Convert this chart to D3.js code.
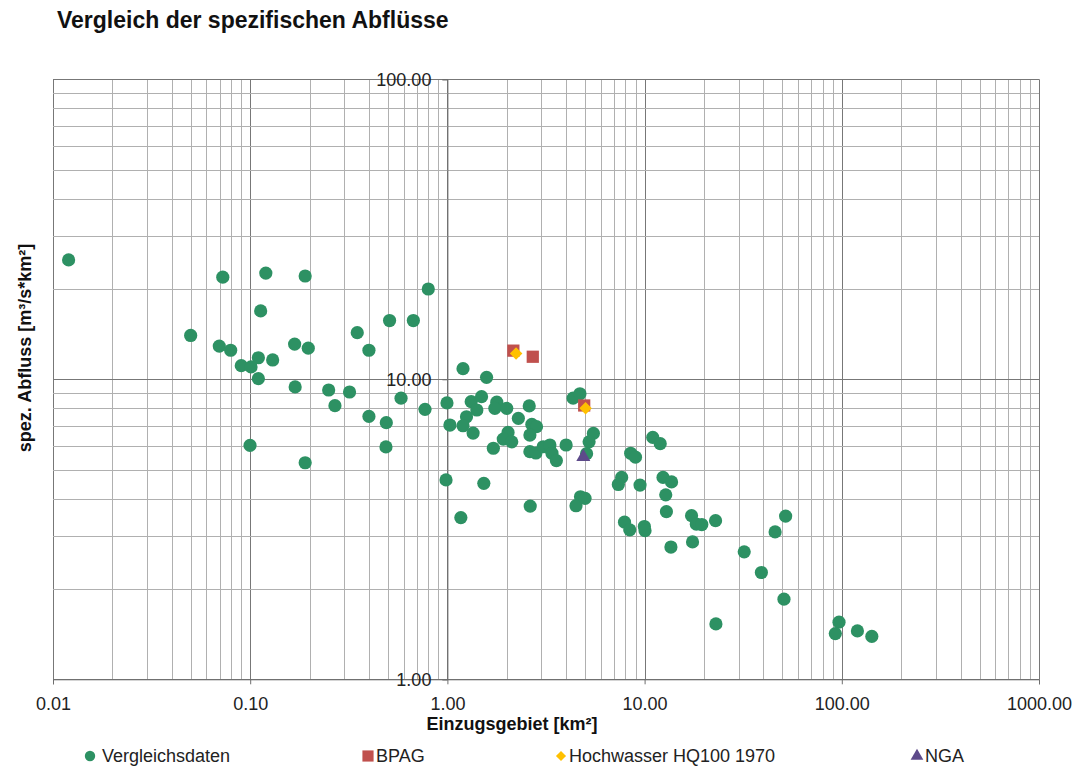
<!DOCTYPE html>
<html>
<head>
<meta charset="utf-8">
<script src="https://cdn.jsdelivr.net/npm/d3@7"></script>
<style>
  body { margin: 0; background: #ffffff; }
  svg { font-family: "Liberation Sans", Arial, sans-serif; }
</style>
</head>
<body>
<svg></svg>
<script>
// Vergleichsdaten: Einzugsgebiet [km²] und spez. Abfluss [m³/s*km²]
const vergleichFlaeche = [
  0.012, 0.0726, 0.120, 0.190, 0.800, 0.113, 0.509, 0.672, 0.0499, 0.349,
  0.0697, 0.0796, 0.168, 0.197, 0.400, 0.110, 0.130, 0.0901, 0.101, 0.110,
  0.169, 0.250, 0.319, 0.269, 0.582, 0.770, 0.400, 0.490, 0.0998, 0.488,
  0.190, 1.20, 1.58, 0.995, 1.32, 1.49, 1.41, 1.25, 1.03, 1.20,
  1.35, 1.78, 1.74, 2.00, 2.60, 2.29, 2.68, 2.83, 2.62, 2.03,
  1.92, 2.12, 1.71, 2.62, 2.81, 3.06, 3.31, 3.39, 3.57, 4.00,
  4.34, 4.70, 5.50, 5.23, 5.08, 0.984, 1.53, 2.63, 1.17, 4.73,
  4.49, 4.99, 11.0, 12.0, 8.50, 8.99, 7.65, 7.36, 9.48, 12.4,
  13.7, 12.8, 12.9, 7.91, 8.41, 9.97, 10.05, 13.6, 17.3, 18.3,
  19.5, 22.9, 17.5, 32.0, 39.1, 45.9, 51.9, 50.9, 23.0, 96.8,
  92.7, 120, 142
];
const vergleichAbfluss = [
  25.0, 21.9, 22.6, 22.1, 20.0, 16.9, 15.7, 15.7, 14.0, 14.3,
  12.9, 12.5, 13.1, 12.7, 12.5, 11.8, 11.6, 11.1, 11.0, 10.05,
  9.43, 9.21, 9.07, 8.17, 8.65, 7.94, 7.52, 7.17, 6.02, 5.95,
  5.27, 10.85, 10.15, 8.34, 8.42, 8.75, 7.90, 7.50, 7.04, 7.00,
  6.62, 8.39, 8.00, 8.00, 8.15, 7.41, 7.07, 6.95, 6.52, 6.65,
  6.32, 6.19, 5.89, 5.74, 5.68, 5.96, 6.04, 5.67, 5.36, 6.04,
  8.65, 8.95, 6.60, 6.19, 5.65, 4.62, 4.50, 3.78, 3.46, 4.06,
  3.79, 4.01, 6.40, 6.10, 5.67, 5.50, 4.71, 4.46, 4.44, 4.71,
  4.55, 4.12, 3.62, 3.34, 3.15, 3.23, 3.13, 2.76, 3.51, 3.29,
  3.28, 3.38, 2.87, 2.66, 2.27, 3.10, 3.50, 1.85, 1.53, 1.55,
  1.42, 1.45, 1.39
];
const bpagFlaeche = [2.16, 2.71, 4.94];
const bpagAbfluss = [12.46, 11.89, 8.18];
const hqFlaeche = [2.23, 5.02];
const hqAbfluss = [12.2, 8.01];
const ngaFlaeche = [4.89];
const ngaAbfluss = [5.51];

const xTickValues = [0.01, 0.1, 1, 10, 100, 1000];
const yTickValues = [1, 10, 100];
const seriesNames = ["Vergleichsdaten", "BPAG", "Hochwasser HQ100 1970", "NGA"];
const seriesColors = ["#2d9163", "#c0504d", "#ffc000", "#5d4a8a"];

const w = 1082;
const h = 767;
const svg = d3.select("svg")
              .attr("width", w)
              .attr("height", h);

const xScale = d3.scaleLog()
                 .domain([0.01, 1000])
                 .range([53, 1039]);
const yScale = d3.scaleLog()
                 .domain([1, 100])
                 .range([679.3, 79.3]);

svg.append("text")
   .text("Vergleich der spezifischen Abflüsse")
   .attr("x", 57)
   .attr("y", 28)
   .attr("font-size", 23)
   .attr("font-weight", "bold")
   .attr("fill", "#111");

// grid, minor first then the decades on top
const grid = svg.append("g");
const isDecade = (v) => Math.abs(Math.log10(v) - Math.round(Math.log10(v))) < 1e-6;

grid.selectAll(".vline")
    .data(xScale.ticks())
    .enter().append("line")
    .attr("x1", (d) => Math.round(xScale(d)) + 0.5)
    .attr("x2", (d) => Math.round(xScale(d)) + 0.5)
    .attr("y1", yScale(100))
    .attr("y2", yScale(1))
    .attr("stroke", (d) => isDecade(d) ? "#777777" : "#b0b0b0")
    .attr("stroke-width", 1);

grid.selectAll(".hline")
    .data(yScale.ticks())
    .enter().append("line")
    .attr("x1", xScale(0.01))
    .attr("x2", xScale(1000))
    .attr("y1", (d) => Math.round(yScale(d)) + 0.5)
    .attr("y2", (d) => Math.round(yScale(d)) + 0.5)
    .attr("stroke", (d) => isDecade(d) ? "#777777" : "#b0b0b0")
    .attr("stroke-width", 1);

// axes: y axis crosses at x = 1
const xAxis = d3.axisBottom(xScale)
                .tickValues(xTickValues)
                .tickFormat(d3.format(".2f"))
                .tickSize(5)
                .tickPadding(13);
const yAxis = d3.axisLeft(yScale)
                .tickValues(yTickValues)
                .tickFormat(d3.format(".2f"))
                .tickSize(5)
                .tickPadding(11);

const gx = svg.append("g")
              .attr("transform", "translate(0," + yScale(1) + ")")
              .call(xAxis);
const gy = svg.append("g")
              .attr("transform", "translate(" + xScale(1) + ",0)")
              .call(yAxis);

[gx, gy].forEach((g) => {
  g.select(".domain").attr("stroke", "#6e6e6e");
  g.selectAll(".tick line").attr("stroke", "#6e6e6e");
  g.selectAll(".tick text")
   .attr("font-size", 18)
   .attr("font-family", "Liberation Sans, Arial, sans-serif")
   .attr("fill", "#222");
});

svg.append("text")
   .text("Einzugsgebiet [km²]")
   .attr("x", 512)
   .attr("y", 730)
   .attr("text-anchor", "middle")
   .attr("font-size", 18)
   .attr("font-weight", "bold")
   .attr("fill", "#111");

svg.append("text")
   .text("spez. Abfluss [m³/s*km²]")
   .attr("transform", "translate(31,348) rotate(-90)")
   .attr("text-anchor", "middle")
   .attr("font-size", 18)
   .attr("font-weight", "bold")
   .attr("fill", "#111");

// markers
const pts = svg.append("g");
pts.selectAll("circle")
   .data(d3.zip(vergleichFlaeche, vergleichAbfluss))
   .enter().append("circle")
   .attr("cx", (d) => xScale(d[0]))
   .attr("cy", (d) => yScale(d[1]))
   .attr("r", 6.6)
   .attr("fill", seriesColors[0]);

const sq = d3.symbol().type(d3.symbolSquare).size(150);
const dia = d3.symbol().type(d3.symbolDiamond2).size(100);
const tri = d3.symbol().type(d3.symbolTriangle).size(85);

pts.selectAll(".bpag")
   .data(d3.zip(bpagFlaeche, bpagAbfluss))
   .enter().append("path")
   .attr("d", sq)
   .attr("transform", (d) => "translate(" + xScale(d[0]) + "," + yScale(d[1]) + ")")
   .attr("fill", seriesColors[1]);

pts.selectAll(".hq")
   .data(d3.zip(hqFlaeche, hqAbfluss))
   .enter().append("path")
   .attr("d", dia)
   .attr("transform", (d) => "translate(" + xScale(d[0]) + "," + yScale(d[1]) + ")")
   .attr("fill", seriesColors[2]);

pts.selectAll(".nga")
   .data(d3.zip(ngaFlaeche, ngaAbfluss))
   .enter().append("path")
   .attr("d", tri)
   .attr("transform", (d) => "translate(" + xScale(d[0]) + "," + yScale(d[1]) + ")")
   .attr("fill", seriesColors[3]);

// legend along the bottom
const legendX = [90, 368, 561, 917];
const legendSymbols = [
  d3.symbol().type(d3.symbolCircle).size(85),
  d3.symbol().type(d3.symbolSquare).size(125),
  d3.symbol().type(d3.symbolDiamond2).size(65),
  d3.symbol().type(d3.symbolTriangle).size(70)
];
const legend = svg.append("g");
seriesNames.forEach((name, i) => {
  legend.append("path")
        .attr("d", legendSymbols[i])
        .attr("transform", "translate(" + legendX[i] + ",756)")
        .attr("fill", seriesColors[i]);
  legend.append("text")
        .text(name)
        .attr("x", legendX[i] + (i == 0 ? 12 : 8))
        .attr("y", 762)
        .attr("font-size", 18)
        .attr("fill", "#222");
});
</script>
</body>
</html>
